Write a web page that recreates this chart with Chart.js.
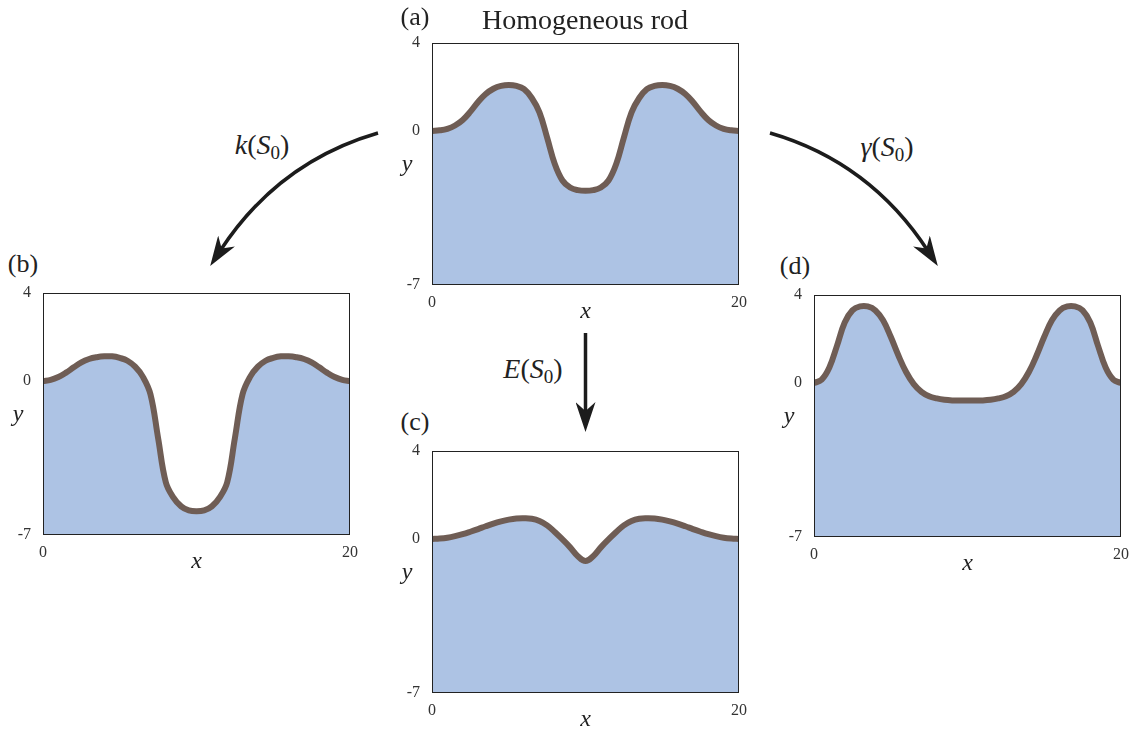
<!DOCTYPE html>
<html>
<head>
<meta charset="utf-8">
<script src="https://cdn.jsdelivr.net/npm/chart.js@4.4.1/dist/chart.umd.min.js"></script>
<style>
  body { margin: 0; background: #fff; width: 1131px; height: 731px; position: relative; overflow: hidden;
         font-family: "Liberation Serif", serif; color: #222; }
  canvas.panel { position: absolute; }
  svg.arrows { position: absolute; left: 0; top: 0; }
  .lbl { position: absolute; transform: translate(-50%, -50%); white-space: nowrap; line-height: 1; }
  .title { font-size: 28px; }
  .tag { font-size: 26px; }
  .op { font-size: 28px; }
  .op i { font-style: italic; }
  .op sub { font-size: 0.68em; vertical-align: -0.28em; line-height: 0; }
</style>
</head>
<body>

<svg class="arrows" width="1131" height="731">
  <defs>
    <marker id="head" viewBox="0 0 30 20" markerWidth="30" markerHeight="20" refX="12" refY="10"
            orient="auto" markerUnits="userSpaceOnUse">
      <path d="M0,0 L30,10 L0,20 L9,10 Z" fill="#1c1c1c"/>
    </marker>
  </defs>
  <!-- k(S0): (a) -> (b) -->
  <path d="M378,133 Q278,162 220,251" fill="none" stroke="#1c1c1c" stroke-width="3.5" marker-end="url(#head)"/>
  <!-- gamma(S0): (a) -> (d) -->
  <path d="M770,133 Q870,162 928,251" fill="none" stroke="#1c1c1c" stroke-width="3.5" marker-end="url(#head)"/>
  <!-- E(S0): (a) -> (c) -->
  <path d="M585.5,333 L585.5,414" fill="none" stroke="#1c1c1c" stroke-width="3.5" marker-end="url(#head)"/>
</svg>

<canvas class="panel" id="panelA" width="357" height="292" style="left:392px; top:33px;"></canvas>
<canvas class="panel" id="panelB" width="357" height="292" style="left:3px; top:283px;"></canvas>
<canvas class="panel" id="panelC" width="357" height="292" style="left:392px; top:441px;"></canvas>
<canvas class="panel" id="panelD" width="357" height="292" style="left:774px; top:285px;"></canvas>

<div class="lbl title" style="left:585px; top:20px;">Homogeneous rod</div>
<div class="lbl tag" style="left:415px; top:17px;">(a)</div>
<div class="lbl tag" style="left:23px; top:264px;">(b)</div>
<div class="lbl tag" style="left:415px; top:422px;">(c)</div>
<div class="lbl tag" style="left:795px; top:266px;">(d)</div>
<div class="lbl op" style="left:262px; top:145px;"><i>k</i>(<i>S</i><sub>0</sub>)</div>
<div class="lbl op" style="left:887px; top:147px;"><i>γ</i>(<i>S</i><sub>0</sub>)</div>
<div class="lbl op" style="left:533px; top:369px;"><i>E</i>(<i>S</i><sub>0</sub>)</div>

<script>
// rod position along the bar
const xs = [0, 0.5, 1, 1.5, 2, 2.5, 3, 3.5, 4, 4.5, 5, 5.5, 6, 6.5, 7, 7.5, 8, 8.5, 9, 9.5,
            10, 10.5, 11, 11.5, 12, 12.5, 13, 13.5, 14, 14.5, 15, 15.5, 16, 16.5, 17, 17.5, 18, 18.5, 19, 19.5, 20];

// (a) homogeneous rod
const rodA = [0, 0.03, 0.1, 0.25, 0.5, 0.88, 1.32, 1.68, 1.92, 2.05, 2.09, 2.05, 1.9, 1.5, 0.85, -0.3, -1.5, -2.25, -2.57, -2.69,
              -2.72, -2.69, -2.57, -2.25, -1.5, -0.3, 0.85, 1.5, 1.9, 2.05, 2.09, 2.05, 1.92, 1.68, 1.32, 0.88, 0.5, 0.25, 0.1, 0.03, 0];
// (b) k(S0)
const rodB = [0, 0.05, 0.18, 0.38, 0.62, 0.85, 1.0, 1.08, 1.12, 1.12, 1.05, 0.92, 0.65, 0.2, -0.6, -2.6, -4.6, -5.3, -5.7, -5.88,
              -5.92, -5.88, -5.7, -5.3, -4.6, -2.6, -0.6, 0.2, 0.65, 0.92, 1.05, 1.12, 1.12, 1.08, 1.0, 0.85, 0.62, 0.38, 0.18, 0.05, 0];
// (c) E(S0)
const rodC = [0, 0.02, 0.06, 0.13, 0.22, 0.33, 0.45, 0.58, 0.7, 0.8, 0.88, 0.93, 0.94, 0.92, 0.82, 0.62, 0.32, -0.02, -0.38, -0.78,
              -1.0, -0.78, -0.38, -0.02, 0.32, 0.62, 0.82, 0.92, 0.94, 0.93, 0.88, 0.8, 0.7, 0.58, 0.45, 0.33, 0.22, 0.13, 0.06, 0.02, 0];
// (d) gamma(S0)
const rodD = [0, 0.15, 0.7, 1.7, 2.75, 3.3, 3.48, 3.48, 3.3, 2.85, 2.1, 1.25, 0.5, -0.05, -0.4, -0.6, -0.7, -0.76, -0.79, -0.8,
              -0.8, -0.8, -0.79, -0.76, -0.7, -0.6, -0.4, -0.05, 0.5, 1.25, 2.1, 2.85, 3.3, 3.48, 3.48, 3.3, 2.75, 1.7, 0.7, 0.15, 0];

const xTicks = [0, 20];
const yTicks = [-7, 0, 4];

const tickFont = { family: "'Liberation Serif', serif", size: 16 };

// box around the plot + horizontal axis names
const framePlugin = {
  id: "frame",
  afterDraw(chart) {
    const { ctx, chartArea: a } = chart;
    ctx.save();
    ctx.strokeStyle = "#222";
    ctx.lineWidth = 1;
    ctx.strokeRect(a.left + 0.5, a.top + 0.5, a.right - a.left - 1, a.bottom - a.top - 1);

    ctx.fillStyle = "#222";
    ctx.font = "italic 24px 'Liberation Serif', serif";
    ctx.textAlign = "center";
    ctx.textBaseline = "middle";
    ctx.fillText("x", (a.left + a.right) / 2, a.bottom + 27);
    ctx.fillText("y", a.left - 25, (a.top + a.bottom) / 2 + 1);
    ctx.restore();
  }
};

function makePanel(canvasId, ys) {
  const pts = xs.map((x, i) => ({ x: x, y: ys[i] }));
  return new Chart(document.getElementById(canvasId), {
    type: "line",
    data: {
      datasets: [{
        data: pts,
        borderColor: "#6f5d55",
        backgroundColor: "#adc3e4",
        borderWidth: 6,
        borderJoinStyle: "round",
        fill: "start",
        pointRadius: 0,
        tension: 0.4,
        clip: 0
      }]
    },
    options: {
      responsive: false,
      animation: false,
      devicePixelRatio: 1,
      layout: { padding: { top: 10, right: 10, left: 0, bottom: 0 } },
      plugins: { legend: { display: false }, tooltip: { enabled: false } },
      scales: {
        x: {
          type: "linear", min: 0, max: 20,
          grid: { display: false }, border: { display: false },
          afterBuildTicks: s => { s.ticks = xTicks.map(v => ({ value: v })); },
          afterFit: s => { s.height = 40; s.paddingLeft = 0; s.paddingRight = 0; },
          ticks: { color: "#333", font: tickFont, padding: 0, autoSkip: false, maxRotation: 0 }
        },
        y: {
          type: "linear", min: -7, max: 4,
          grid: { display: false }, border: { display: false },
          afterBuildTicks: s => { s.ticks = yTicks.map(v => ({ value: v })); },
          afterFit: s => { s.width = 40; s.paddingTop = 0; s.paddingBottom = 0; },
          ticks: { color: "#333", font: tickFont, padding: 4, autoSkip: false }
        }
      }
    },
    plugins: [framePlugin]
  });
}

makePanel("panelA", rodA);
makePanel("panelB", rodB);
makePanel("panelC", rodC);
makePanel("panelD", rodD);
</script>
</body>
</html>
